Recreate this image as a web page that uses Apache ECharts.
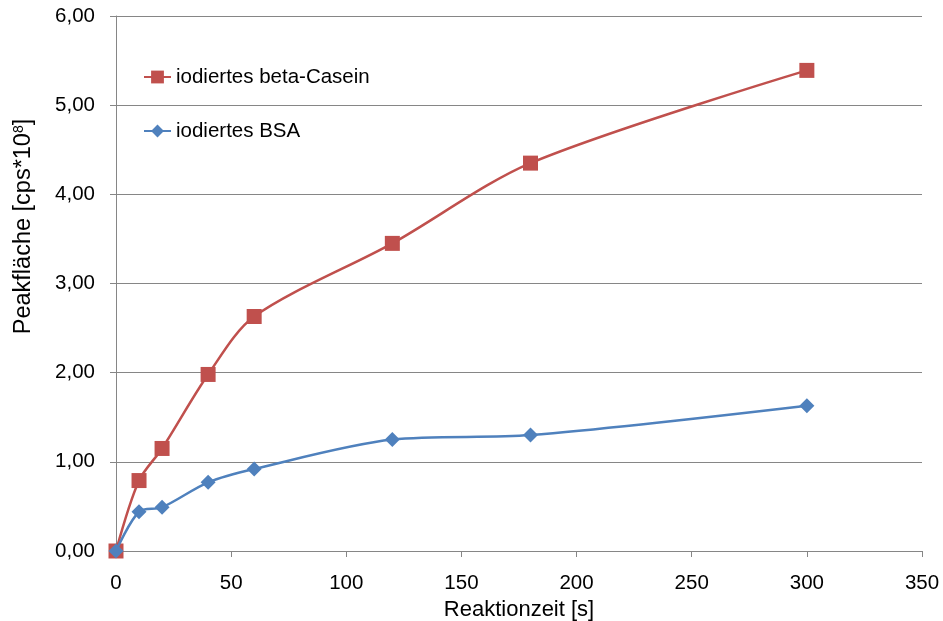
<!DOCTYPE html>
<html>
<head>
<meta charset="utf-8">
<script src="https://cdn.jsdelivr.net/npm/echarts@6/dist/echarts.min.js"></script>
<style>
  html, body { margin: 0; padding: 0; background: #fff; }
  #chart { width: 943px; height: 621px; }
</style>
</head>
<body>
<div id="chart"></div>
<script>
// Reaction times [s]
const times = [0, 10, 20, 40, 60, 120, 180, 300];
// Peak areas [cps*10^8]
const casein = [0.00, 0.79, 1.15, 1.98, 2.63, 3.45, 4.35, 5.39];
const bsa = [0.00, 0.44, 0.49, 0.77, 0.92, 1.25, 1.30, 1.63];

const seriesNames = ['iodiertes beta-Casein', 'iodiertes BSA'];
const xTitle = 'Reaktionzeit [s]';
const yTitle = 'Peakfläche [cps*10{sup|8}]';

const pair = (xs, ys) => xs.map((x, i) => [x, ys[i]]);
const axisGray = '#868686';
const fontFamily = 'Liberation Sans, Arial, sans-serif';

const chart = echarts.init(document.getElementById('chart'), null, { renderer: 'canvas' });
chart.setOption({
  animation: false,
  backgroundColor: '#ffffff',
  textStyle: { fontFamily: fontFamily },
  grid: { left: 116, right: 21, top: 16, bottom: 70, containLabel: false, outerBoundsMode: 'none' },
  legend: {
    orient: 'vertical',
    left: 138,
    top: 61,
    itemWidth: 27,
    itemHeight: 16,
    itemGap: 32,
    textStyle: { fontSize: 20.5, lineHeight: 22, color: '#000', fontFamily: fontFamily },
    data: seriesNames
  },
  xAxis: {
    type: 'value',
    min: 0, max: 350, interval: 50,
    name: xTitle,
    nameLocation: 'middle',
    nameGap: 45,
    nameTextStyle: { fontSize: 22, color: '#000' },
    axisLine: { show: true, lineStyle: { color: axisGray, width: 1 } },
    axisTick: { show: true, length: 6, inside: false, lineStyle: { color: axisGray } },
    axisLabel: { fontSize: 20.5, color: '#000', margin: 22 },
    splitLine: { show: false }
  },
  yAxis: {
    type: 'value',
    min: 0, max: 6, interval: 1,
    name: yTitle,
    nameLocation: 'middle',
    nameGap: 80,
    nameRotate: 90,
    nameTextStyle: {
      fontSize: 23.5, color: '#000',
      padding: [0, 0, 0, 114],
      rich: { sup: { fontSize: 14, verticalAlign: 'top', padding: [0, 0, 10, 0], color: '#000' } }
    },
    axisLine: { show: true, lineStyle: { color: axisGray, width: 1 } },
    axisTick: { show: true, length: 6, inside: false, lineStyle: { color: axisGray } },
    axisLabel: {
      fontSize: 20.5, color: '#000', margin: 21,
      formatter: v => v.toFixed(2).replace('.', ',')
    },
    splitLine: { show: true, lineStyle: { color: axisGray, width: 1 } }
  },
  series: [
    {
      name: seriesNames[0],
      type: 'line',
      data: pair(times, casein),
      smooth: 0.3,
      symbol: 'rect',
      symbolSize: 15,
      color: '#C0504D',
      lineStyle: { width: 2.5, color: '#C0504D' },
      itemStyle: { color: '#C0504D' },
      z: 2
    },
    {
      name: seriesNames[1],
      type: 'line',
      data: pair(times, bsa),
      smooth: 0.3,
      symbol: 'diamond',
      symbolSize: 15,
      color: '#4F81BD',
      lineStyle: { width: 2.5, color: '#4F81BD' },
      itemStyle: { color: '#4F81BD' },
      z: 3
    }
  ]
});
</script>
</body>
</html>
